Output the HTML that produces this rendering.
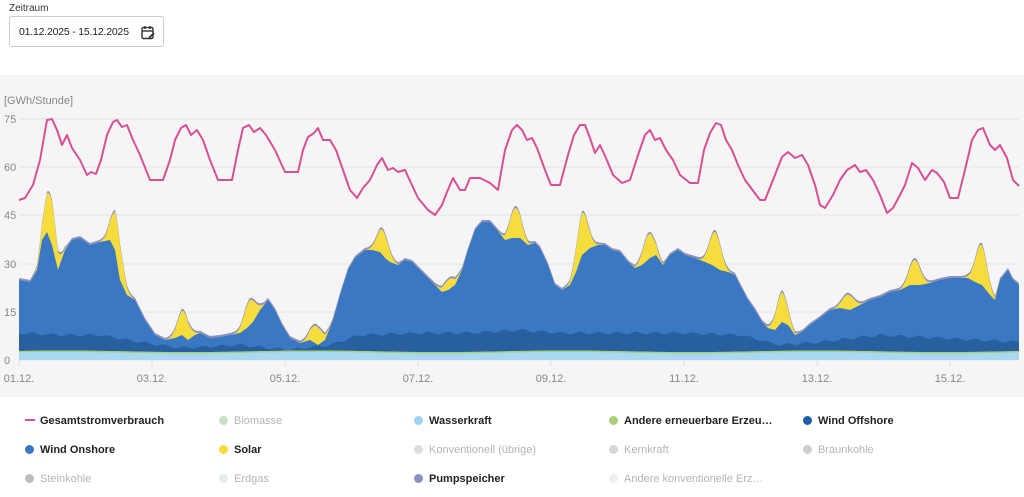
<!DOCTYPE html>
<html><head><meta charset="utf-8"><style>
body{margin:0;width:1024px;height:497px;background:#fff;font-family:"Liberation Sans",sans-serif;position:relative;overflow:hidden}
.lbl{position:absolute;left:9px;top:3px;font-size:10px;color:#333}
.box{position:absolute;left:9px;top:16px;width:155px;height:31px;border:1px solid #ccc;border-radius:3px;box-sizing:border-box;font-size:10.5px;color:#222;line-height:30px;padding-left:9px;letter-spacing:-0.2px}
.panel{position:absolute;left:0;top:75px;width:1024px;height:322px;background:#f5f5f5}
svg{position:absolute;left:0;top:0}
.lg{position:absolute;font-size:11px;font-weight:bold;color:#222;white-space:nowrap}
.lg.off{font-weight:normal;color:#b5b5b5}
.lg i{display:inline-block;width:9px;height:9px;border-radius:50%;margin-right:6px;vertical-align:-1px}
.lg b.ln{display:inline-block;width:10px;height:2px;margin-right:5px;vertical-align:3px}
</style></head><body>
<div class="lbl">Zeitraum</div>
<div class="box">01.12.2025 - 15.12.2025
<svg style="left:131px;top:8px" width="14" height="15" viewBox="0 0 14 15"><rect x="1" y="2.5" width="11" height="11" rx="1.5" fill="none" stroke="#333" stroke-width="1.4"/><line x1="1" y1="6" x2="12" y2="6" stroke="#333" stroke-width="1.4"/><line x1="4" y1="1" x2="4" y2="4" stroke="#333" stroke-width="1.4"/><line x1="9" y1="1" x2="9" y2="4" stroke="#333" stroke-width="1.4"/><line x1="8" y1="13" x2="13" y2="8" stroke="#333" stroke-width="1.8"/></svg></div>
<div class="panel"></div>
<svg id="c" width="1024" height="497"></svg>
<div class="lg" style="left:25px;top:415px"><b class="ln" style="background:#d94f96"></b>Gesamtstromverbrauch</div>
<div class="lg off" style="left:219px;top:415px"><i style="background:#c9dfc4"></i>Biomasse</div>
<div class="lg" style="left:414px;top:415px"><i style="background:#9fd3f3"></i>Wasserkraft</div>
<div class="lg" style="left:609px;top:415px"><i style="background:#a8cf78"></i>Andere erneuerbare Erzeu…</div>
<div class="lg" style="left:803px;top:415px"><i style="background:#1f5ea8"></i>Wind Offshore</div>
<div class="lg" style="left:25px;top:444px"><i style="background:#3a78c4"></i>Wind Onshore</div>
<div class="lg" style="left:219px;top:444px"><i style="background:#f6dc3c"></i>Solar</div>
<div class="lg off" style="left:414px;top:444px"><i style="background:#dcdce2"></i>Konventionell (übrige)</div>
<div class="lg off" style="left:609px;top:444px"><i style="background:#d5d5d5"></i>Kernkraft</div>
<div class="lg off" style="left:803px;top:444px"><i style="background:#d3cccc"></i>Braunkohle</div>
<div class="lg off" style="left:25px;top:473px"><i style="background:#bdbdbd"></i>Steinkohle</div>
<div class="lg off" style="left:219px;top:473px"><i style="background:#e4ecf0"></i>Erdgas</div>
<div class="lg" style="left:414px;top:473px"><i style="background:#8a8fc4"></i>Pumpspeicher</div>
<div class="lg off" style="left:609px;top:473px"><i style="background:#eceef2"></i>Andere konventionelle Erz…</div>
<script>
const S=document.getElementById('c');let h='';
const X0=19,X1=1019;
function interp(p,x){for(let i=0;i<p.length-1;i++){if(x<=p[i+1][0]){const t=(x-p[i][0])/(p[i+1][0]-p[i][0]);return p[i][1]+t*(p[i+1][1]-p[i][1]);}}return p[p.length-1][1];}
function pr(a){const r=[];for(let i=0;i<a.length;i+=2)r.push([a[i],a[i+1]]);return r;}
[[75,119],[60,167],[45,215],[30,264],[15,312],[0,360]].forEach(g=>{h+=`<line x1="19" x2="1019" y1="${g[1]}" y2="${g[1]}" stroke="#e4e4e4" stroke-width="1"/><text x="4" y="${g[1]+4}" font-size="11" fill="#888" font-family="Liberation Sans">${g[0]}</text>`});
h+=`<text x="4" y="104" font-size="11" fill="#888" font-family="Liberation Sans">[GWh/Stunde]</text>`;
['01.12.','03.12.','05.12.','07.12.','09.12.','11.12.','13.12.','15.12.'].forEach((d,i)=>{const x=19+133*i;h+=`<line x1="${x}" x2="${x}" y1="360" y2="366" stroke="#ddd"/><text x="${x}" y="382" font-size="11" fill="#888" text-anchor="middle" font-family="Liberation Sans">${d}</text>`});
const blue=pr([19,280,30,282,37,270,42,240,47,232,52,245,58,270,65,250,72,240,80,238,90,245,100,242,110,240,115,250,120,280,127,295,135,300,145,320,155,335,165,340,175,338,182,335,188,340,195,335,200,333,210,338,220,337,230,335,240,333,247,328,253,322,260,310,268,300,275,310,282,325,290,338,300,343,310,340,318,345,325,340,333,320,340,295,348,270,355,258,365,250,372,250,380,252,385,258,390,262,398,265,405,260,412,262,420,270,428,278,435,285,442,292,448,290,455,285,462,270,468,250,475,230,482,222,490,222,497,230,505,240,512,238,520,238,528,245,535,243,540,248,548,265,555,285,562,290,570,285,576,272,582,255,590,248,598,245,605,245,612,250,620,252,628,262,635,268,642,265,650,258,656,255,663,265,670,255,678,250,685,255,695,258,705,262,712,265,720,270,728,272,735,275,740,285,748,300,755,310,762,322,768,328,775,330,782,322,788,325,795,335,802,332,810,325,820,318,830,310,840,308,850,310,860,305,870,300,880,297,890,292,900,290,910,285,920,285,930,283,940,280,950,278,960,278,968,278,975,282,982,285,990,295,995,300,1000,280,1008,270,1013,280,1019,285]);
const off=pr([19,333,60,335,100,335,140,342,180,348,240,345,290,350,330,345,360,335,420,333,470,333,520,330,560,333,620,333,680,333,740,335,780,345,820,342,880,335,940,338,1019,342]);
const amp=[45,40,25,25,18,25,10,30,42,25,35,30,15,25,40];
const cons=pr([19,200,25,198,33,185,40,160,47,120,52,119,57,130,62,145,67,135,72,148,80,160,87,175,91,172,96,174,101,160,107,135,113,122,117,120,122,127,127,125,133,140,140,155,150,180,163,180,170,160,175,140,181,128,186,125,191,135,197,130,203,140,210,160,218,180,232,180,238,150,243,128,249,125,254,132,260,128,266,135,275,150,285,172,298,172,303,150,308,137,314,133,318,128,323,140,330,140,336,150,343,170,350,190,357,198,363,188,370,180,377,165,382,158,388,170,393,168,398,172,405,170,411,183,418,198,428,210,435,215,442,205,447,192,453,178,460,190,465,190,470,178,480,178,490,183,498,190,505,150,512,130,517,125,522,130,527,140,532,138,537,148,545,170,551,185,560,185,568,155,574,135,580,125,585,125,590,138,595,153,600,145,606,158,613,175,622,183,630,180,638,155,645,135,650,130,655,140,660,138,666,150,673,160,680,175,690,183,698,183,704,150,710,133,716,123,721,125,726,140,732,150,738,165,745,180,760,200,765,200,775,175,782,157,788,152,795,158,802,155,808,165,815,185,820,205,825,208,833,195,840,180,847,170,855,165,860,172,866,170,873,180,880,195,887,213,893,208,900,195,905,185,912,163,918,168,925,180,932,170,937,173,944,182,950,198,958,198,965,170,972,140,978,130,983,128,990,145,995,150,1000,145,1007,158,1013,180,1019,186]);
function solar(x){let s=0;for(let d=0;d<15;d++){const c=19+66.5*(d+0.5)-2;const dx=(x-c)/8;s+=amp[d]*Math.exp(-dx*dx);}return s;}
const xs=[];for(let x=X0;x<=X1;x+=1)xs.push(x);
function area(top,bot,fill){let d='M'+xs.map(x=>x+','+top(x).toFixed(1)).join('L');for(let i=xs.length-1;i>=0;i--)d+='L'+xs[i]+','+bot(xs[i]).toFixed(1);h+=`<path d="${d}Z" fill="${fill}"/>`;}
const bT=x=>interp(blue,x),sT=x=>bT(x)-solar(x);
area(x=>sT(x)-2,x=>360,'#8a8fc4');
area(sT,x=>360,'#f6dc3c');
area(bT,x=>360,'#3a78c4');
area(x=>interp(off,x)+Math.sin(x/3)*1.2,x=>360,'#28609f');
area(x=>352-Math.sin(x/40)*0.8,x=>360,'#a8d8f2');
h+=`<path d="M${xs.map(x=>x+','+(352-Math.sin(x/40)*0.8).toFixed(1)).join('L')}" fill="none" stroke="#a8cf78" stroke-width="1.5"/>`;
h+=`<path d="M${cons.map(p=>p.join(',')).join('L')}" fill="none" stroke="#d94f96" stroke-width="2" stroke-linejoin="round"/>`;
S.innerHTML=h;
</script>
</body></html>
